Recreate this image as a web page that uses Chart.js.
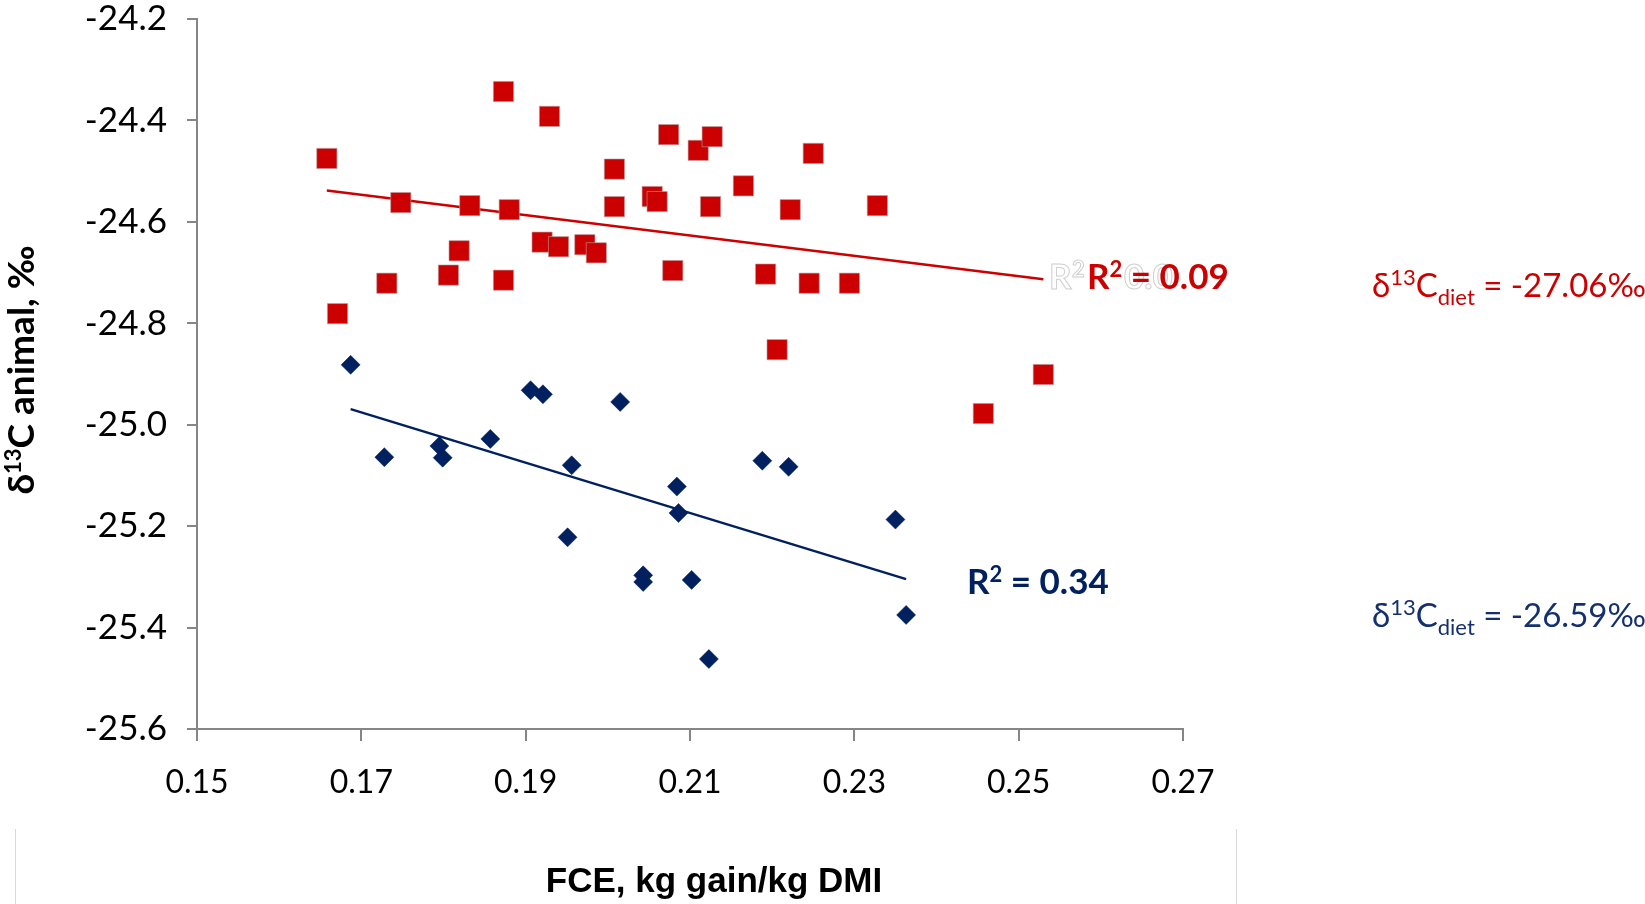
<!DOCTYPE html>
<html lang="en">
<head>
  <meta charset="UTF-8">
  <title>FCE vs d13C animal</title>
  <script src="https://cdn.jsdelivr.net/npm/chart.js"></script>
  <style>
    body { margin: 0; background: #fff; }
    #wrap { width: 1645px; height: 904px; }
  </style>
</head>
<body>
  <div id="wrap">
    <canvas id="fceChart" width="1645" height="904"></canvas>
  </div>

  <script>
    // values
    const redX = [0.1658, 0.1671, 0.1731, 0.1748, 0.1806, 0.1819, 0.1832, 0.1873, 0.1873, 0.1880,
                  0.1920, 0.1929, 0.1940, 0.1972, 0.1986, 0.2008, 0.2008, 0.2054, 0.2060, 0.2074,
                  0.2079, 0.2110, 0.2127, 0.2125, 0.2165, 0.2192, 0.2206, 0.2222, 0.2250, 0.2245,
                  0.2294, 0.2328, 0.2457, 0.2530];
    const redY = [-24.475, -24.781, -24.721, -24.562, -24.705, -24.657, -24.568, -24.343, -24.715, -24.576,
                  -24.640, -24.392, -24.649, -24.645, -24.661, -24.496, -24.570, -24.550, -24.560, -24.428,
                  -24.696, -24.459, -24.432, -24.570, -24.529, -24.703, -24.852, -24.576, -24.465, -24.721,
                  -24.721, -24.568, -24.978, -24.901];

    const blueX = [0.1687, 0.1728, 0.1795, 0.1799, 0.1857, 0.1906, 0.1921, 0.1956, 0.1951, 0.2015,
                   0.2043, 0.2043, 0.2084, 0.2086, 0.2102, 0.2123, 0.2188, 0.2220, 0.2350, 0.2363];
    const blueY = [-24.882, -25.064, -25.042, -25.065, -25.028, -24.932, -24.940, -25.080, -25.222, -24.955,
                   -25.297, -25.310, -25.122, -25.174, -25.306, -25.462, -25.071, -25.083, -25.187, -25.375];

    const xTicks = [0.15, 0.17, 0.19, 0.21, 0.23, 0.25, 0.27];

    const redR2 = '0.09';
    const blueR2 = '0.34';
    const redDiet = '-27.06‰';
    const blueDiet = '-26.59‰';

    const RED = '#cc0000';
    const NAVY = '#002060';
    const NAVY_TEXT = '#14306e';
    const AXIS = '#868686';

    function toPoints(xs, ys) {
      return xs.map((x, i) => ({ x: x, y: ys[i] }));
    }

    // least squares line over the range of the data
    function trend(xs, ys) {
      const n = xs.length;
      const mx = xs.reduce((a, b) => a + b, 0) / n;
      const my = ys.reduce((a, b) => a + b, 0) / n;
      let sxy = 0, sxx = 0;
      for (let i = 0; i < n; i++) {
        sxy += (xs[i] - mx) * (ys[i] - my);
        sxx += (xs[i] - mx) * (xs[i] - mx);
      }
      const b = sxy / sxx;
      const a = my - b * mx;
      const lo = Math.min(...xs), hi = Math.max(...xs);
      return [{ x: lo, y: a + b * lo }, { x: hi, y: a + b * hi }];
    }

    // text with a superscript and/or subscript part
    function drawParts(ctx, x, y, parts) {
      parts.forEach(p => {
        ctx.font = p.font;
        ctx.fillStyle = p.color;
        ctx.fillText(p.text, x, y + (p.dy || 0));
        x += ctx.measureText(p.text).width;
      });
    }

    const annotations = {
      id: 'annotations',
      afterDraw(chart) {
        const ctx = chart.ctx;
        ctx.save();
        ctx.textBaseline = 'alphabetic';
        ctx.textAlign = 'left';

        const bold = 'bold 35px Lato';
        const boldSup = 'bold 22px Lato';

        // faint duplicate label behind the red one
        ctx.font = bold;
        ctx.strokeStyle = '#cfcfcf';
        ctx.lineWidth = 1;
        ctx.strokeText('R', 1049, 289);
        ctx.font = boldSup;
        ctx.strokeText('2', 1072, 277);
        ctx.font = bold;
        ctx.strokeText('0.0', 1124, 289);

        drawParts(ctx, 1087, 289, [
          { text: 'R', font: bold, color: RED },
          { text: '2', font: boldSup, color: RED, dy: -12 },
          { text: ' = ' + redR2, font: bold, color: RED }
        ]);
        drawParts(ctx, 967, 594, [
          { text: 'R', font: bold, color: NAVY },
          { text: '2', font: boldSup, color: NAVY, dy: -12 },
          { text: ' = ' + blueR2, font: bold, color: NAVY }
        ]);

        const reg = '33px Lato';
        const small = '22px Lato';
        drawParts(ctx, 1372, 297, [
          { text: 'δ', font: reg, color: RED },
          { text: '13', font: small, color: RED, dy: -12 },
          { text: 'C', font: reg, color: RED },
          { text: 'diet', font: small, color: RED, dy: 8 },
          { text: ' = ' + redDiet, font: reg, color: RED }
        ]);
        drawParts(ctx, 1372, 627, [
          { text: 'δ', font: reg, color: NAVY_TEXT },
          { text: '13', font: small, color: NAVY_TEXT, dy: -12 },
          { text: 'C', font: reg, color: NAVY_TEXT },
          { text: 'diet', font: small, color: NAVY_TEXT, dy: 8 },
          { text: ' = ' + blueDiet, font: reg, color: NAVY_TEXT }
        ]);

        // axis titles
        ctx.fillStyle = '#000';
        ctx.font = 'bold 35px "Liberation Sans", Arial';
        ctx.textAlign = 'center';
        ctx.fillText('FCE, kg gain/kg DMI', 714, 892);

        ctx.translate(34, 370);
        ctx.rotate(-Math.PI / 2);
        ctx.textAlign = 'left';
        const tb = 'bold 37px Lato';
        const tsup = 'bold 22px Lato';
        ctx.font = tb;
        let w = ctx.measureText('δC animal, ‰').width;
        ctx.font = tsup;
        w += ctx.measureText('13').width;
        drawParts(ctx, -w / 2, 0, [
          { text: 'δ', font: tb, color: '#000' },
          { text: '13', font: tsup, color: '#000', dy: -13 },
          { text: 'C animal, ‰', font: tb, color: '#000' }
        ]);
        ctx.restore();

        // thin frame pieces at the bottom
        ctx.save();
        ctx.strokeStyle = '#d9d9d9';
        ctx.lineWidth = 1;
        ctx.beginPath();
        ctx.moveTo(15.5, 829);
        ctx.lineTo(15.5, 904);
        ctx.moveTo(1236.5, 829);
        ctx.lineTo(1236.5, 904);
        ctx.stroke();
        ctx.restore();
      }
    };

    const ctx = document.getElementById('fceChart').getContext('2d');
    new Chart(ctx, {
      type: 'scatter',
      data: {
        datasets: [
          {
            label: 'red',
            data: toPoints(redX, redY),
            pointStyle: 'rect',
            pointRadius: 14.3,
            backgroundColor: RED,
            borderColor: '#b8a0a0',
            borderWidth: 0.6,
            order: 0
          },
          {
            label: 'blue',
            data: toPoints(blueX, blueY),
            pointStyle: 'rectRot',
            pointRadius: 9.5,
            backgroundColor: NAVY,
            borderColor: NAVY,
            borderWidth: 0.5,
            order: 0
          },
          {
            type: 'line',
            label: 'red trend',
            data: trend(redX, redY),
            borderColor: RED,
            borderWidth: 2.5,
            pointRadius: 0,
            fill: false,
            order: 1
          },
          {
            type: 'line',
            label: 'blue trend',
            data: trend(blueX, blueY),
            borderColor: NAVY,
            borderWidth: 2.5,
            pointRadius: 0,
            fill: false,
            order: 1
          }
        ]
      },
      options: {
        responsive: false,
        animation: false,
        devicePixelRatio: 1,
        layout: { padding: { left: 0, top: 0, right: 462, bottom: 0 } },
        plugins: {
          legend: { display: false },
          tooltip: { enabled: false }
        },
        scales: {
          x: {
            type: 'linear',
            min: 0.15,
            max: 0.27,
            afterFit: s => { s.height = 175; },
            afterBuildTicks: s => {
              s.ticks = xTicks.map(v => ({ value: v }));
            },
            ticks: {
              callback: v => v.toFixed(2),
              font: { family: 'Lato', size: 32 },
              color: '#000',
              padding: 22,
              maxRotation: 0,
              autoSkip: false
            },
            border: { color: AXIS, width: 2 },
            grid: { drawOnChartArea: false, tickLength: 12, color: AXIS, lineWidth: 2 }
          },
          y: {
            type: 'linear',
            min: -25.6,
            max: -24.2,
            afterFit: s => {
              s.width = 197;
              s.paddingTop = 19;
              s.paddingBottom = 0;
            },
            ticks: {
              stepSize: 0.2,
              callback: v => v.toFixed(1),
              font: { family: 'Lato', size: 35 },
              color: '#000',
              padding: 20
            },
            border: { color: AXIS, width: 2 },
            grid: { drawOnChartArea: false, tickLength: 10, color: AXIS, lineWidth: 2 }
          }
        }
      },
      plugins: [annotations]
    });
  </script>
</body>
</html>
